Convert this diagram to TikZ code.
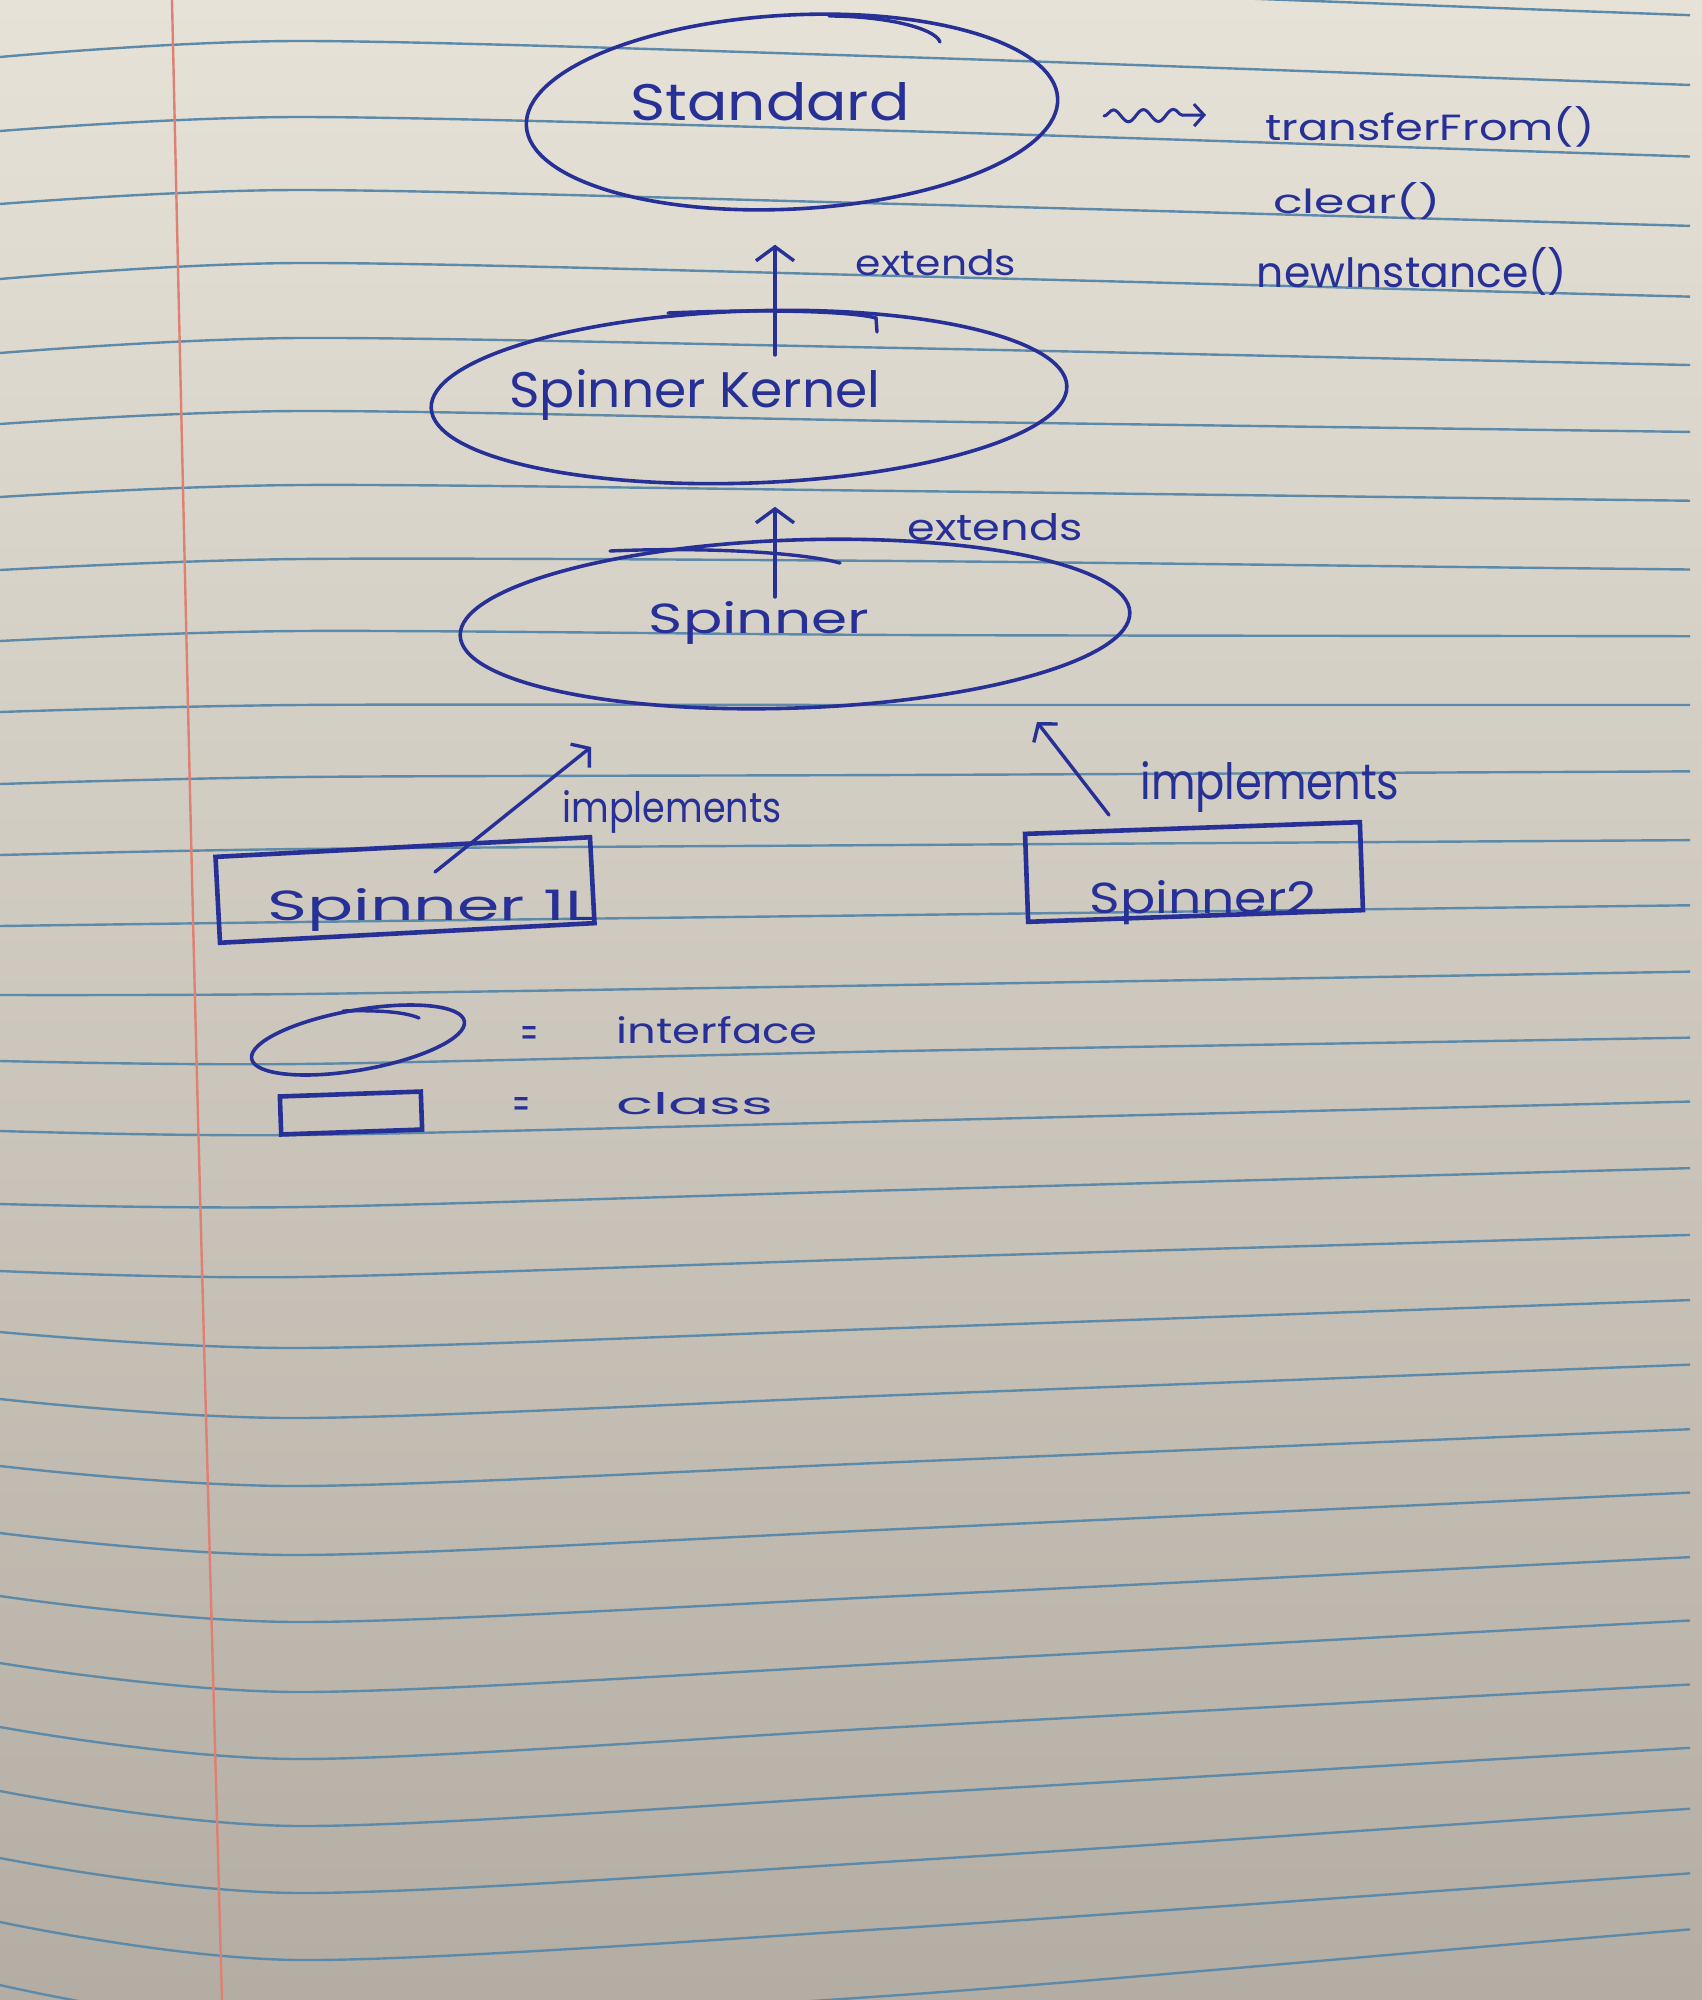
\documentclass[tikz,border=0pt]{standalone}
\usepackage{fontspec}
\setmainfont{Poppins}
\usetikzlibrary{shapes.geometric,arrows.meta,decorations.pathmorphing,calc}
\definecolor{ink}{RGB}{38,48,150}
\definecolor{paperTop}{RGB}{230,226,215}
\definecolor{paperMid}{RGB}{214,208,197}
\definecolor{paperBot}{RGB}{180,173,163}
\definecolor{rulecol}{RGB}{92,138,168}
\definecolor{margincol}{RGB}{222,128,116}
% hand lettering, scaled to a given width and height
\newcommand\hw[3]{\resizebox{#1pt}{#2pt}{#3}}
\begin{document}
\begin{tikzpicture}[x=1pt,y=-1pt,
  ruled/.style={draw=rulecol, line width=2.4pt},
  iface/.style={ellipse, draw=ink, line width=3.6pt, inner sep=0pt},
  klass/.style={rectangle, draw=ink, line width=4.6pt, inner sep=0pt},
  hand/.style={text=ink, inner sep=0pt, anchor=base},
  pen/.style={draw=ink, line width=3.4pt, line cap=round},
  arr/.style={pen, -{Straight Barb[length=14pt,width=38pt]}},
]
\useasboundingbox (0,0) rectangle (1702,2000);
% the sheet of notebook paper
\fill[top color=paperTop, middle color=paperMid, bottom color=paperBot] (0,0) rectangle (1702,2000);
\foreach \a/\b/\c/\d in {-15/-30/-14/10, 57/41/57/80, 131/117/131/152, 204/190/204/222,
  279/263/276/293, 353/338/348/362, 424/411/421/430, 497/485/491/499, 570/559/561/568,
  641/631/635/636, 712/705/705/705, 784/777/775/772, 855/849/845/841, 926/922/915/907,
  995/994/985/974, 1061/1064/1051/1040, 1131/1135/1121/1105, 1204/1207/1190/1172,
  1271/1277/1258/1239, 1332/1348/1328/1305, 1399/1418/1395/1370, 1466/1486/1462/1435,
  1533/1555/1529/1499, 1596/1622/1596/1564, 1663/1692/1663/1628, 1727/1759/1727/1692,
  1791/1826/1794/1756, 1858/1893/1861/1818, 1922/1960/1928/1883, 1985/2027/1995/1941}
{
  \pgfmathsetmacro\e{\d+(\d-\c)*0.215}
  \draw[ruled] plot[smooth] coordinates {(0,\a) (300,\b) (900,\c) (1550,\d) (1690,\e)};
}
\draw[margincol, line width=2.4pt] plot[smooth] coordinates {(172,0) (195,1000) (222,2000)};

% interfaces
\node[iface, minimum width=532pt, minimum height=194pt, rotate=3] (std) at (792,112) {};
\node[iface, minimum width=636pt, minimum height=172pt, rotate=2] (sk) at (749,397) {};
\node[iface, minimum width=670pt, minimum height=168pt, rotate=2] (sp) at (795,624) {};
% classes
\node[klass, minimum width=375pt, minimum height=86pt, rotate=3] (s1l) at (405,890) {};
\node[klass, minimum width=335pt, minimum height=88pt, rotate=2] (s2) at (1194,872) {};

% overlapping pen strokes where the outlines were closed
\draw[pen] (829,16) .. controls (885,16) and (935,28) .. (940,42);
\draw[pen] (668,313) .. controls (760,309) and (850,311) .. (876,318) -- (877,332);
\draw[pen] (610,551) .. controls (700,547) and (800,552) .. (840,563);

% labels
\node[hand] (tstd) at (770,120) {\hw{279}{38}{Standard}};
\node[hand] (tsk) at (695,407) {\hw{371}{38}{Spinner Kernel}};
\node[hand] (tsp) at (759,633) {\hw{220}{32}{Spinner}};
\node[hand] (ts1) at (431,920) {\hw{327}{32}{Spinner 1L}};
\node[hand] (ts2) at (1203,913) {\hw{227}{33}{Spinner2}};

% methods of Standard
\node[hand] (tf) at (1430,140) {\hw{329}{34}{transferFrom()}};
\node[hand] (cl) at (1357,213) {\hw{168}{31}{clear()}};
\node[hand] (ni) at (1412,287) {\hw{310}{40}{newInstance()}};
\coordinate (wv0) at (1104,116);
\coordinate (wv1) at (1206,115);
\draw[pen, line width=3pt, decorate,
  decoration={snake, amplitude=6pt, segment length=30pt, post length=12pt},
  -{Straight Barb[length=10pt,width=22pt]}] (wv0) -- (wv1);

% extends
\coordinate (x1) at (775,355);
\draw[arr, shorten >=34pt] (x1) -- (x1 |- std.south);
\node[hand] (ex1) at (936,275) {\hw{160}{26}{extends}};
\coordinate (x2) at (775,597);
\draw[arr, shorten >=22pt] (x2) -- (x2 |- sk.south);
\node[hand] (ex2) at (995,540) {\hw{175}{27}{extends}};

% implements
\coordinate (i1) at (435,872);
\coordinate (i1t) at (591,747);
\draw[arr, -{Straight Barb[length=12pt,width=30pt]}] (i1) -- (i1t);
\node[hand] (im1) at (672,822) {\hw{219}{32}{implements}};
\coordinate (i2) at (1109,815);
\coordinate (i2t) at (1037,722);
\draw[arr, -{Straight Barb[length=12pt,width=30pt]}] (i2) -- (i2t);
\node[hand] (im2) at (1270,799) {\hw{259}{38}{implements}};

% legend
\node[iface, minimum width=216pt, minimum height=60pt, rotate=10] (lgi) at (358,1040) {};
\draw[pen] (343,1011) .. controls (380,1010) and (405,1012) .. (419,1018);
\node[hand, anchor=center] (eq1) at (529,1037) {\hw{18}{22}{=}};
\node[hand] (tif) at (717,1043) {\hw{201}{27}{interface}};
\node[klass, minimum width=141pt, minimum height=38pt, rotate=2] (lgc) at (351,1113) {};
\node[hand, anchor=center] (eq2) at (521,1108) {\hw{18}{22}{=}};
\node[hand] (tcl) at (695,1114) {\hw{157}{22}{class}};
\end{tikzpicture}
\end{document}
